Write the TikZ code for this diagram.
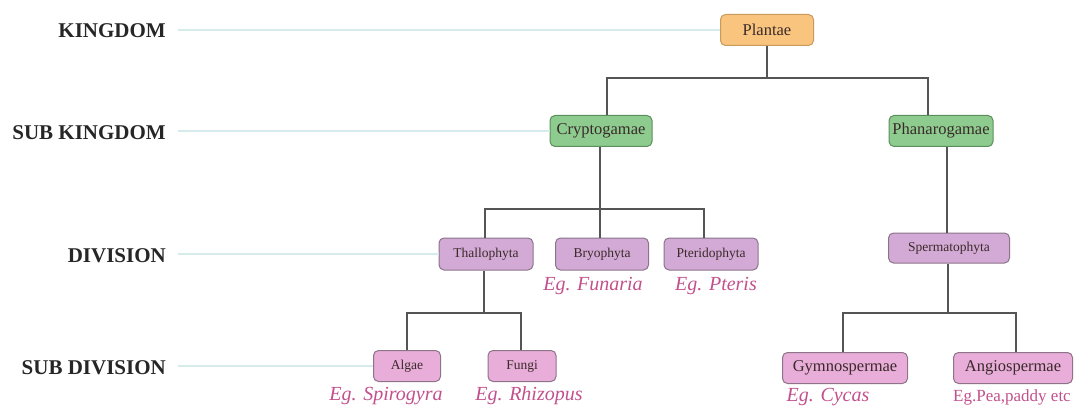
\documentclass[tikz,border=0pt]{standalone}
\usepackage{fontspec}
\setmainfont{Liberation Serif}
\definecolor{guide}{HTML}{D6ECEC}
\definecolor{conn}{HTML}{555555}
\definecolor{orfill}{HTML}{F9C47E}
\definecolor{ordraw}{HTML}{C99A5A}
\definecolor{grfill}{HTML}{8DCB8E}
\definecolor{grdraw}{HTML}{5C8E5C}
\definecolor{lifill}{HTML}{D3AAD5}
\definecolor{lidraw}{HTML}{8A748A}
\definecolor{pkfill}{HTML}{E8ADD9}
\definecolor{pkdraw}{HTML}{8E7488}
\definecolor{egcol}{HTML}{C2508C}
\definecolor{txt}{HTML}{3A2A2A}
\tikzset{
  lvl/.style={anchor=east, font=\fontsize{21}{24}\selectfont\bfseries, text=black!85, inner sep=0pt},
  guideline/.style={draw=guide, line width=2pt},
  conline/.style={draw=conn, line width=1.5pt},
  box/.style={rounded corners=5pt, line width=1pt, inner sep=0pt, text=txt},
  orbox/.style={box, fill=orfill, draw=ordraw, font=\fontsize{16.5}{18}\selectfont},
  grbox/.style={box, fill=grfill, draw=grdraw, font=\fontsize{16.5}{18}\selectfont},
  libox/.style={box, fill=lifill, draw=lidraw, font=\fontsize{13.5}{15}\selectfont},
  pkbox/.style={box, fill=pkfill, draw=pkdraw, font=\fontsize{13.5}{15}\selectfont},
  pkbigbox/.style={box, fill=pkfill, draw=pkdraw, font=\fontsize{16.5}{18}\selectfont},
  eg/.style={text=egcol, font=\fontsize{20}{22}\selectfont\itshape, inner sep=0pt},
  egup/.style={text=egcol, font=\fontsize{17}{19}\selectfont, inner sep=0pt}
}
\begin{document}
\begin{tikzpicture}[x=1pt, y=-1pt]
\useasboundingbox (0,0) rectangle (1082,409);

% level labels
\node[lvl] (lk) at (166,31) {KINGDOM};
\node[lvl] (lsk) at (166,133) {SUB KINGDOM};
\node[lvl] (ld) at (166,256) {DIVISION};
\node[lvl] (lsd) at (166,368) {SUB DIVISION};

% nodes
\node[orbox, minimum width=93pt, minimum height=31pt] (plantae) at (767,30) {Plantae};
\node[grbox, minimum width=102pt, minimum height=31pt] (crypto) at (601,131) {Cryptogamae};
\node[grbox, minimum width=104pt, minimum height=31pt] (phan) at (941,131) {Phanarogamae};
\node[libox, minimum width=94pt, minimum height=32pt] (thallo) at (486,254) {Thallophyta};
\node[libox, minimum width=93pt, minimum height=32pt] (bryo) at (602,254) {Bryophyta};
\node[libox, minimum width=94pt, minimum height=32pt] (pterido) at (711,254) {Pteridophyta};
\node[libox, minimum width=121pt, minimum height=30pt] (sperma) at (949,248) {Spermatophyta};
\node[pkbox, minimum width=67pt, minimum height=31pt] (algae) at (407,366) {Algae};
\node[pkbox, minimum width=68pt, minimum height=31pt] (fungi) at (522,366) {Fungi};
\node[pkbigbox, minimum width=125pt, minimum height=31pt] (gymno) at (845,368) {Gymnospermae};
\node[pkbigbox, minimum width=119pt, minimum height=31pt] (angio) at (1013,368) {Angiospermae};

% examples
\node[eg] (egfun) at (593,286) {Eg. Funaria};
\node[eg] (egpte) at (716,286) {Eg. Pteris};
\node[eg] (egspi) at (386,396) {Eg. Spirogyra};
\node[eg] (egrhi) at (529,396) {Eg. Rhizopus};
\node[eg] (egcyc) at (828,397) {Eg. Cycas};
\node[egup] (egpea) at (1012,397) {Eg.Pea,paddy etc};

% guide lines
\draw[guideline] ([xshift=12pt]lk.east |- plantae.west) -- (plantae.west);
\draw[guideline] ([xshift=12pt]lsk.east |- crypto.west) -- (crypto.west);
\draw[guideline] ([xshift=12pt]ld.east |- thallo.west) -- (thallo.west);
\draw[guideline] ([xshift=12pt]lsd.east |- algae.west) -- (algae.west);

% junction coordinates
\coordinate (j1) at (767,78);
\coordinate (j2) at (600,209);
\coordinate (j3) at (484,313);
\coordinate (j4) at (948,313);

% connectors
\draw[conline] (plantae.south) -- (j1);
\draw[conline] (j1) -| ([xshift=6pt]crypto.north);
\draw[conline] (j1) -| ([xshift=-13pt]phan.north);
\draw[conline] ([xshift=-1pt]crypto.south) -- (j2);
\draw[conline] (j2) -| ([xshift=-1pt]thallo.north);
\draw[conline] (j2) -- ([xshift=-2pt]bryo.north);
\draw[conline] (j2) -| ([xshift=-7pt]pterido.north);
\draw[conline] ([xshift=6pt]phan.south) -- ([xshift=6pt]phan.south |- sperma.north);
\draw[conline] ([xshift=-2pt]thallo.south) -- (j3);
\draw[conline] (j3) -| (algae.north);
\draw[conline] (j3) -| ([xshift=-1pt]fungi.north);
\draw[conline] (j4 |- sperma.south) -- (j4);
\draw[conline] (j4) -| ([xshift=-2pt]gymno.north);
\draw[conline] (j4) -| ([xshift=3pt]angio.north);
\end{tikzpicture}
\end{document}
